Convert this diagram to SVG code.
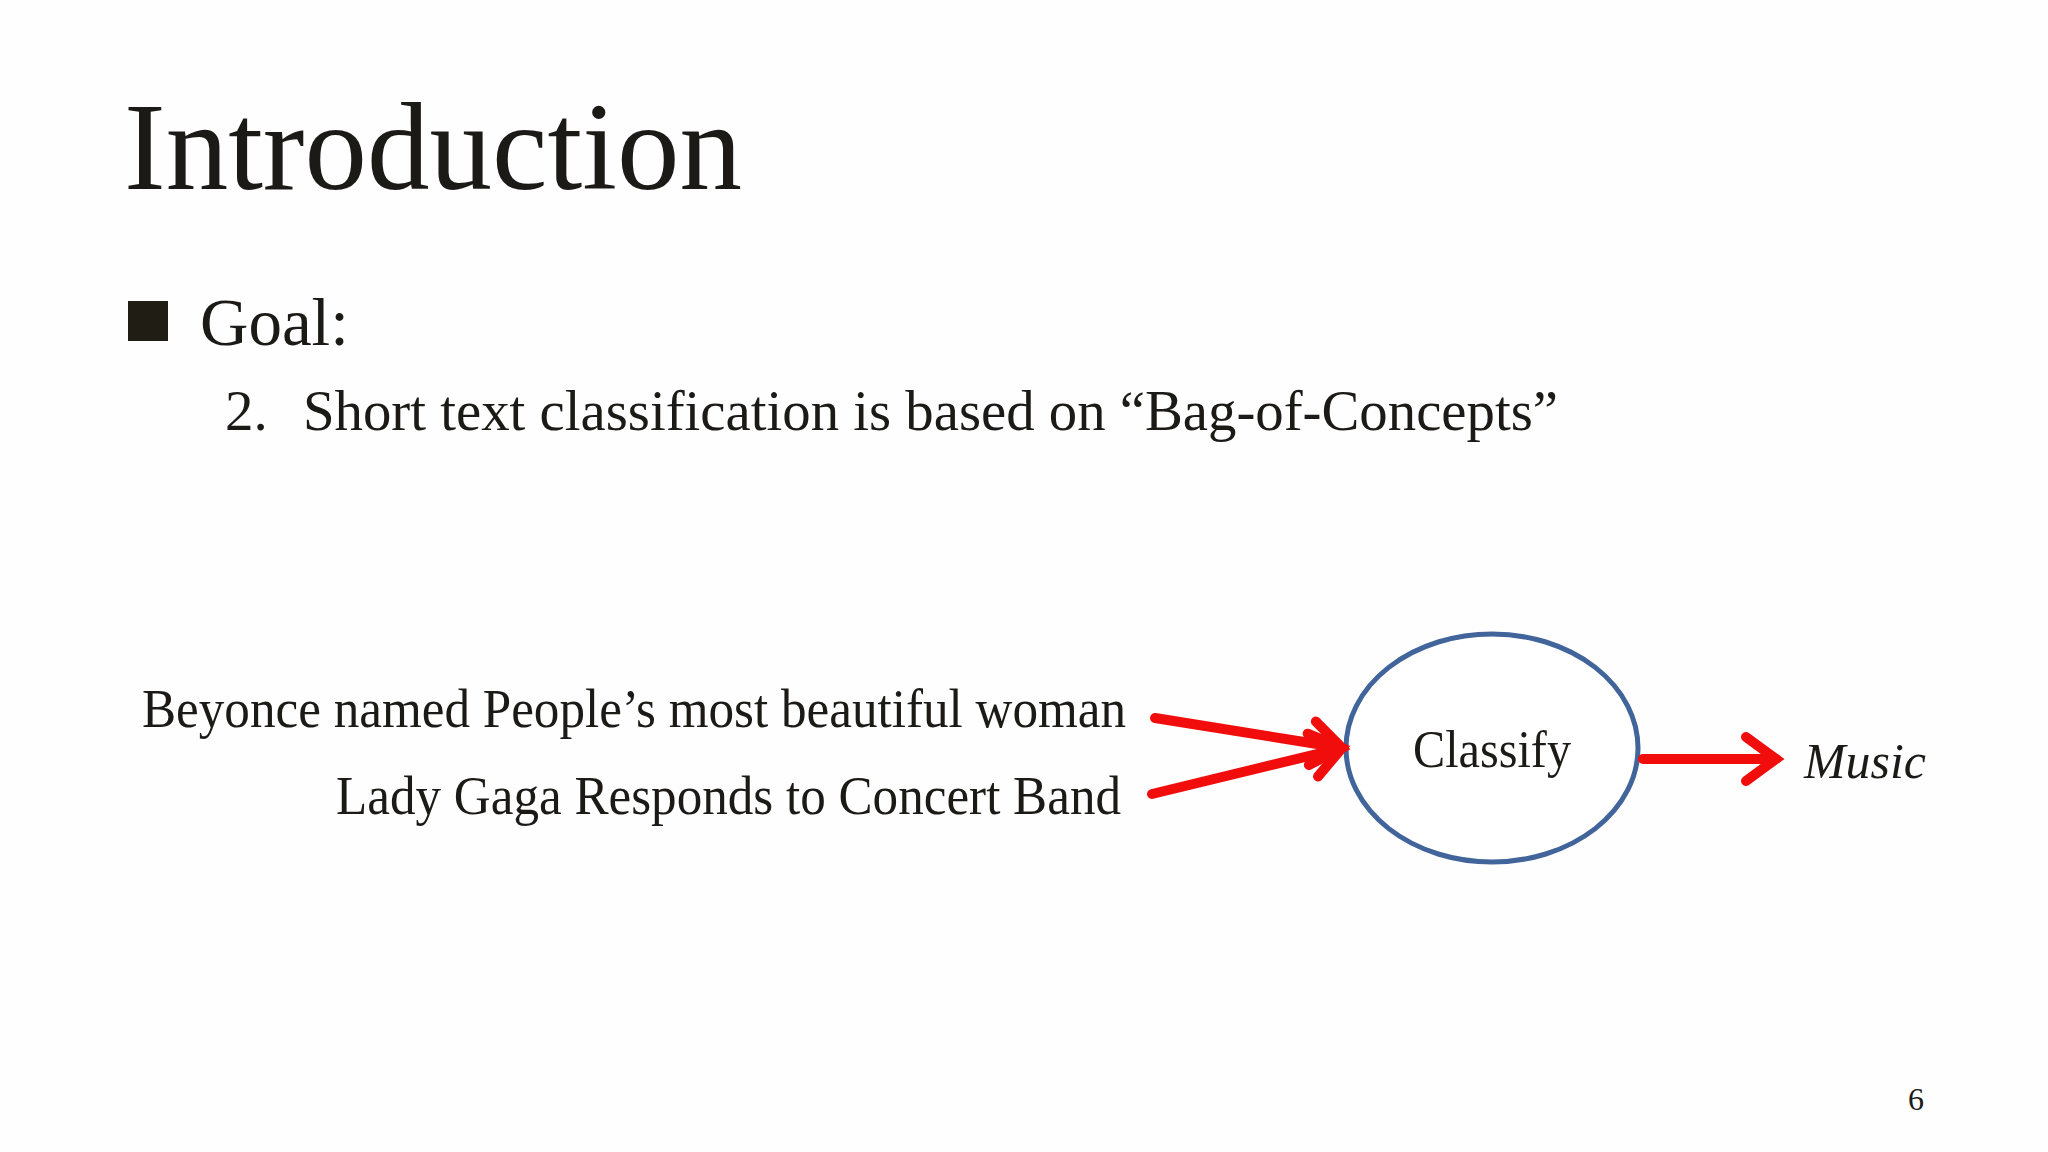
<svg xmlns="http://www.w3.org/2000/svg" width="2048" height="1152" viewBox="0 0 2048 1152">
  <style>
    .t { font-family: "Liberation Serif", "Times New Roman", serif; fill: #1c1a16; }
    .conn { stroke: #f20d0d; stroke-width: 10; fill: none; stroke-linecap: round; }
  </style>
  <defs>
    <marker id="chev" markerUnits="userSpaceOnUse" viewBox="-40 -30 50 60" refX="0" refY="0" markerWidth="50" markerHeight="60" orient="auto" overflow="visible">
      <path d="M-30,-22 L0,0 L-30,22" fill="none" stroke="#f20d0d" stroke-width="10" stroke-linecap="round" stroke-linejoin="miter"/>
    </marker>
  </defs>
  <rect width="2048" height="1152" fill="#fefefe"/>

  <g id="title">
    <text class="t" x="124" y="189" font-size="125" textLength="618" lengthAdjust="spacingAndGlyphs">Introduction</text>
  </g>

  <g id="bullet-goal">
    <rect x="128" y="301" width="40" height="40" fill="#201d14"/>
    <text class="t" x="200" y="345" font-size="67">Goal:</text>
  </g>

  <g id="item-2">
    <text class="t" x="225" y="430" font-size="57">2.</text>
    <text class="t" x="303" y="430" font-size="57" textLength="1255" lengthAdjust="spacingAndGlyphs">Short text classification is based on “Bag-of-Concepts”</text>
  </g>

  <g id="input-1">
    <text class="t" x="142" y="727" font-size="54" textLength="984" lengthAdjust="spacingAndGlyphs">Beyonce named People’s most beautiful woman</text>
  </g>

  <g id="input-2">
    <text class="t" x="336" y="814" font-size="54" textLength="785" lengthAdjust="spacingAndGlyphs">Lady Gaga Responds to Concert Band</text>
  </g>

  <g id="classify">
    <ellipse cx="1492" cy="748" rx="146" ry="114" fill="#ffffff" stroke="#41649a" stroke-width="5"/>
    <text class="t" x="1413" y="767" font-size="52" textLength="158" lengthAdjust="spacingAndGlyphs">Classify</text>
  </g>

  <g id="music">
    <text class="t" x="1804" y="778" font-size="50" font-style="italic" textLength="122" lengthAdjust="spacingAndGlyphs">Music</text>
  </g>

  <g id="connectors">
    <line class="conn" x1="1155" y1="718" x2="1342" y2="748" marker-end="url(#chev)"/>
    <line class="conn" x1="1152" y1="794" x2="1342" y2="748" marker-end="url(#chev)"/>
    <line class="conn" x1="1643" y1="759" x2="1776" y2="759" marker-end="url(#chev)"/>
  </g>

  <g id="page-number">
    <text class="t" x="1908" y="1110" font-size="32">6</text>
  </g>
</svg>
